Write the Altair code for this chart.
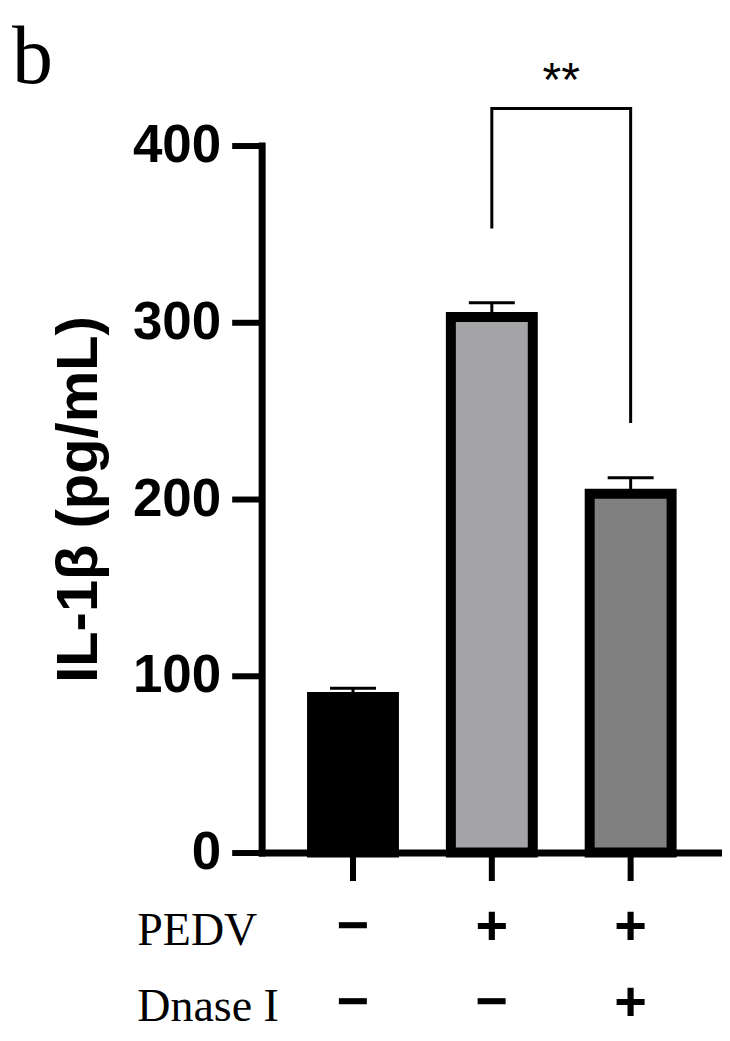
import altair as alt
import pandas as pd

# ---- data ----
groups = ["Control", "PEDV", "PEDV + Dnase I"]
means = [88, 303, 203]
sems = [5, 8, 9]
fills = ["#000000", "#a4a4a7", "#808080"]
pedv_signs = ["\u2212", "+", "+"]
dnase_signs = ["\u2212", "\u2212", "+"]
row_names = ["PEDV", "Dnase I"]
panel_letter = "b"

# significance bracket between group 2 and group 3
bracket_groups = ["PEDV", "PEDV", "PEDV + Dnase I", "PEDV + Dnase I"]
bracket_y = [353, 421, 421, 243]
star_text = "**"
star_y = 428

df = pd.DataFrame({"group": groups, "mean": means, "sem": sems})
df["upper"] = df["mean"] + df["sem"]
br = pd.DataFrame({"group": bracket_groups, "y": bracket_y, "o": list(range(len(bracket_y)))})
st = pd.DataFrame({"group": [groups[1]], "y": [star_y], "t": [star_text]})
lt = pd.DataFrame({"t": [panel_letter]})

# label expression: multi-line +/- labels under each bar
expr = "''"
for g, a, b in zip(reversed(groups), reversed(pedv_signs), reversed(dnase_signs)):
    expr = f"datum.label == '{g}' ? ['{a}', '{b}'] : ({expr})"

xscale = alt.Scale(domain=groups, paddingInner=0.41, paddingOuter=0.363)
yscale = alt.Scale(domain=[0, 400])

x_axis = alt.Axis(
    title=row_names, titleFont="Liberation Serif", titleFontSize=46, titleFontWeight="normal",
    titleColor="black", titleAlign="left", titleBaseline="alphabetic", titleAngle=0,
    titleX=-125, titleY=92, titleLineHeight=76,
    labelExpr=expr, labelFont="Liberation Sans", labelFontSize=56, labelFontWeight="bold",
    labelColor="black", labelAngle=0, labelPadding=19, labelLineHeight=76, labelBaseline="top",
    tickSize=28, tickWidth=6, tickColor="black",
    domainWidth=7, domainColor="black", domainCap="square", zindex=1,
)
y_axis = alt.Axis(
    values=[0, 100, 200, 300, 400], title="IL-1\u03b2 (pg/mL)",
    titleFont="Liberation Sans", titleFontSize=58, titleFontWeight="bold", titleColor="black",
    titleAngle=270, titleBaseline="alphabetic", titleAlign="center", titleX=-165, titleY=354,
    labelFont="Liberation Sans", labelFontSize=53, labelFontWeight="bold", labelColor="black",
    labelPadding=11, tickSize=30, tickWidth=6, tickColor="black",
    domainWidth=7, domainColor="black", domainCap="square", grid=False, zindex=1,
)

base = alt.Chart(df)

bars = base.mark_bar(stroke="black", strokeWidth=10).encode(
    x=alt.X("group:N", scale=xscale, axis=x_axis, sort=groups),
    y=alt.Y("mean:Q", scale=yscale, axis=y_axis),
    fill=alt.Fill("group:N", scale=alt.Scale(domain=groups, range=fills), legend=None),
)

stems = base.mark_rule(color="black", strokeWidth=3).encode(
    x=alt.X("group:N", sort=groups), y="mean:Q", y2="upper:Q"
)
caps = base.mark_tick(color="black", thickness=3, size=46, opacity=1).encode(
    x=alt.X("group:N", sort=groups), y="upper:Q"
)

bracket = alt.Chart(br).mark_line(color="black", strokeWidth=3).encode(
    x=alt.X("group:N", sort=groups), y="y:Q", order="o:Q"
)
stars = alt.Chart(st).mark_text(
    font="Liberation Sans", fontSize=48, color="black", baseline="alphabetic", align="center", dx=69.5
).encode(x=alt.X("group:N", sort=groups), y="y:Q", text="t:N")

letter = alt.Chart(lt).mark_text(
    font="Liberation Serif", fontSize=82, color="black", baseline="alphabetic", align="left"
).encode(x=alt.value(-250), y=alt.value(-63), text="t:N")

chart = alt.layer(bars, stems, caps, bracket, stars, letter).properties(
    width=461, height=708,
    autosize="none",
    padding={"left": 254, "top": 137, "right": 0, "bottom": 180},
).configure_view(stroke=None)

chart.save("out.html", embed_options={"renderer": "svg", "actions": False})
